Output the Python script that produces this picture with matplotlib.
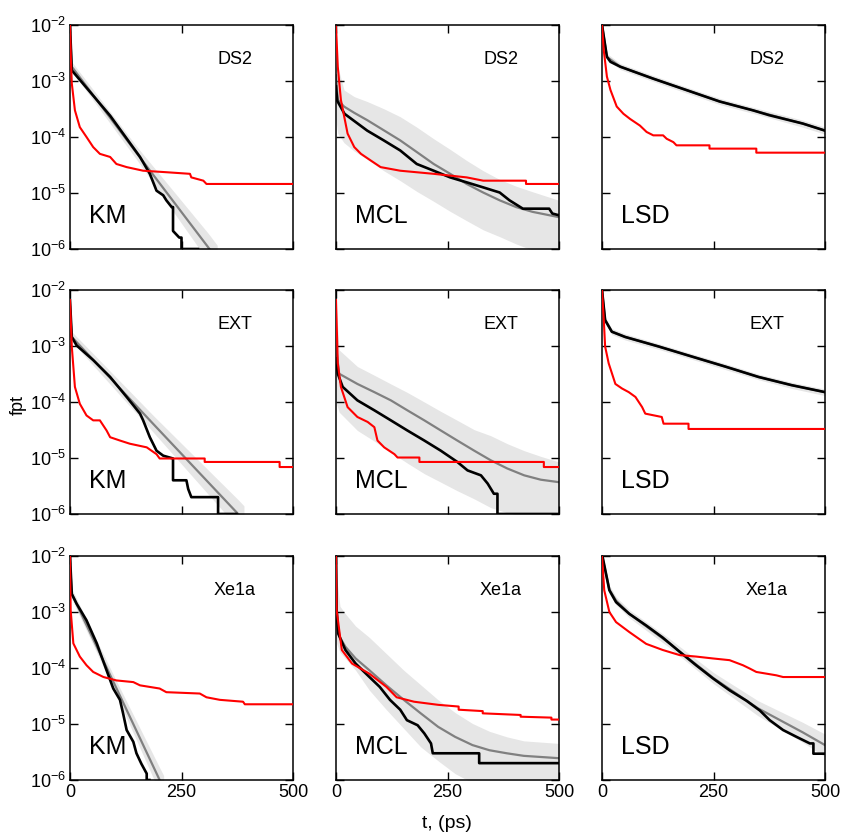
import numpy as np
import matplotlib
matplotlib.use("Agg")
import matplotlib.pyplot as plt
from matplotlib.ticker import NullLocator

plt.rcParams['font.family'] = ['Liberation Sans', 'DejaVu Sans']
plt.rcParams['mathtext.default'] = 'regular'

models = ["KM", "MCL", "LSD"]
datasets = ["DS2", "EXT", "Xe1a"]
x_ticks = [0, 250, 500]
y_ticks = [1e-6, 1e-5, 1e-4, 1e-3, 1e-2]

# ---- KM / DS2 ----
km_ds2_black_t = [0, 4, 90, 157, 179, 194, 209, 216, 228, 231, 231, 245, 250, 250, 287]
km_ds2_black_f = [1e-2, 1.55e-3, 2.4e-4, 4.4e-5, 2.2e-5, 1.1e-5, 9.1e-6, 7.4e-6, 5.6e-6, 5.6e-6, 2.1e-6, 1.6e-6, 1.6e-6, 1e-6, 1e-6]
km_ds2_red_t = [0, 2, 4, 11, 22, 37, 52, 67, 90, 104, 127, 164, 216, 269, 272, 299, 306, 500]
km_ds2_red_f = [1e-2, 2.5e-3, 9.1e-4, 3.0e-4, 1.5e-4, 1.0e-4, 6.6e-5, 5.0e-5, 4.4e-5, 3.3e-5, 2.9e-5, 2.5e-5, 2.35e-5, 2.2e-5, 1.9e-5, 1.66e-5, 1.45e-5, 1.45e-5]
km_ds2_fit_t = [0, 4, 150, 310, 330]
km_ds2_fit_f = [8e-3, 1.8e-3, 5.1e-5, 1.07e-6, 6.6e-7]
km_ds2_fit_lo = [5e-3, 1.5e-3, 3.9e-5, 6e-7, 3.7e-7]
km_ds2_fit_hi = [1e-2, 2.2e-3, 6.7e-5, 1.9e-6, 1.17e-6]

# ---- KM / EXT ----
km_ext_black_t = [0, 4, 15, 52, 90, 127, 157, 164, 179, 194, 209, 231, 231, 261, 265, 272, 332, 332, 373]
km_ext_black_f = [6.6e-3, 1.45e-3, 1.02e-3, 5.6e-4, 2.8e-4, 1.23e-4, 6.2e-5, 4.7e-5, 2.35e-5, 1.35e-5, 1.1e-5, 9.8e-6, 4.0e-6, 4.0e-6, 2.8e-6, 2.0e-6, 2.0e-6, 1.0e-6, 1.0e-6]
km_ext_red_t = [0, 4, 11, 22, 37, 52, 67, 82, 90, 112, 134, 172, 194, 201, 302, 302, 470, 470, 500]
km_ext_red_f = [6.6e-3, 9.8e-4, 1.86e-4, 9.3e-5, 5.75e-5, 4.7e-5, 4.7e-5, 3.1e-5, 2.35e-5, 2.05e-5, 1.8e-5, 1.55e-5, 1.17e-5, 9.8e-6, 9.8e-6, 8.5e-6, 8.5e-6, 6.9e-6, 6.9e-6]
km_ext_fit_t = [0, 4, 190, 377, 390]
km_ext_fit_f = [5e-3, 1.45e-3, 3.8e-5, 1e-6, 7.7e-7]
km_ext_fit_lo = [3e-3, 1.2e-3, 2.7e-5, 5.6e-7, 4.3e-7]
km_ext_fit_hi = [9e-3, 1.8e-3, 5.4e-5, 1.8e-6, 1.4e-6]

# ---- KM / Xe1a ----
km_xe_black_t = [0, 4, 15, 37, 60, 82, 97, 112, 119, 127, 142, 149, 160, 172, 172, 178]
km_xe_black_f = [1e-2, 2.1e-3, 1.4e-3, 7.1e-4, 2.75e-4, 9.1e-5, 4.3e-5, 2.7e-5, 1.55e-5, 7.8e-6, 4.8e-6, 3.0e-6, 1.95e-6, 1.3e-6, 1.0e-6, 1.0e-6]
km_xe_red_t = [0, 1.5, 7.5, 22, 37, 52, 75, 104, 142, 157, 201, 216, 291, 306, 336, 388, 392, 500]
km_xe_red_f = [1e-2, 1.07e-3, 2.75e-4, 1.6e-4, 1.12e-4, 8.5e-5, 6.9e-5, 6.0e-5, 5.6e-5, 4.9e-5, 4.3e-5, 3.7e-5, 3.5e-5, 3.0e-5, 2.7e-5, 2.5e-5, 2.25e-5, 2.25e-5]
km_xe_fit_t = [0, 4, 100, 201, 210]
km_xe_fit_f = [8e-3, 2.1e-3, 5.1e-5, 1e-6, 7e-7]
km_xe_fit_lo = [5e-3, 1.7e-3, 3.9e-5, 6e-7, 4.2e-7]
km_xe_fit_hi = [1e-2, 2.6e-3, 6.8e-5, 1.66e-6, 1.2e-6]

# ---- MCL / DS2 ----
mcl_ds2_black_t = [0, 3, 19, 70, 107, 144, 181, 219, 256, 293, 330, 367, 389, 419, 478, 485, 500]
mcl_ds2_black_f = [8e-4, 4.4e-4, 2.6e-4, 1.3e-4, 8.7e-5, 5.75e-5, 3.3e-5, 2.5e-5, 1.9e-5, 1.55e-5, 1.26e-5, 1.02e-5, 7.4e-6, 5.25e-6, 5.25e-6, 4.3e-6, 4.0e-6]
mcl_ds2_red_t = [0, 4, 11, 26, 41, 56, 78, 100, 144, 219, 293, 330, 426, 426, 500]
mcl_ds2_red_f = [9.3e-3, 1.8e-3, 4.6e-4, 1.15e-4, 6.6e-5, 5.0e-5, 3.8e-5, 2.9e-5, 2.5e-5, 2.2e-5, 1.9e-5, 1.66e-5, 1.66e-5, 1.45e-5, 1.45e-5]
mcl_ds2_fit_t = [0, 4, 18, 41, 70, 107, 144, 181, 219, 256, 293, 330, 367, 404, 441, 500]
mcl_ds2_fit_f = [1.26e-3, 4.6e-4, 3.5e-4, 2.7e-4, 2.0e-4, 1.32e-4, 8.7e-5, 5.4e-5, 3.3e-5, 2.2e-5, 1.45e-5, 1.02e-5, 7.4e-6, 5.6e-6, 4.6e-6, 3.7e-6]
mcl_ds2_fit_lo = [2e-4, 1.15e-4, 7.9e-5, 5.6e-5, 4.0e-5, 2.5e-5, 1.66e-5, 1.07e-5, 7.1e-6, 4.7e-6, 3.2e-6, 2.2e-6, 1.66e-6, 1.23e-6, 9.5e-7, 7e-7]
mcl_ds2_fit_hi = [1e-2, 1.8e-3, 6.9e-4, 5.25e-4, 4.3e-4, 3.2e-4, 2.3e-4, 1.5e-4, 9.3e-5, 6.0e-5, 3.8e-5, 2.5e-5, 1.74e-5, 1.32e-5, 1.05e-5, 7.4e-6]

# ---- MCL / EXT ----
mcl_ext_black_t = [0, 4, 15, 48, 86, 123, 160, 198, 235, 272, 295, 325, 340, 354, 362, 362, 500]
mcl_ext_black_f = [6e-4, 3.2e-4, 1.86e-4, 1.07e-4, 7.1e-5, 4.7e-5, 3.1e-5, 2.05e-5, 1.35e-5, 8.5e-6, 6.0e-6, 4.9e-6, 3.5e-6, 2.3e-6, 2.3e-6, 1e-6, 1e-6]
mcl_ext_red_t = [0, 4, 11, 26, 48, 71, 86, 93, 108, 131, 138, 187, 187, 466, 466, 500]
mcl_ext_red_f = [6.6e-3, 4.9e-4, 1.86e-4, 8.1e-5, 5.4e-5, 4.4e-5, 3.55e-5, 2.05e-5, 1.55e-5, 1.17e-5, 1.02e-5, 1.02e-5, 8.5e-6, 8.5e-6, 6.9e-6, 6.9e-6]
mcl_ext_fit_t = [0, 7, 48, 86, 123, 160, 198, 235, 272, 310, 347, 384, 422, 459, 500]
mcl_ext_fit_f = [1e-3, 3.2e-4, 2.1e-4, 1.5e-4, 1.07e-4, 7.1e-5, 4.7e-5, 3.1e-5, 2.05e-5, 1.35e-5, 9.1e-6, 6.5e-6, 4.9e-6, 4.1e-6, 3.7e-6]
mcl_ext_fit_lo = [1e-4, 6.6e-5, 3.1e-5, 2.0e-5, 1.26e-5, 8.1e-6, 5.25e-6, 3.7e-6, 2.6e-6, 1.86e-6, 1.3e-6, 1.05e-6, 8.9e-7, 7.9e-7, 7e-7]
mcl_ext_fit_hi = [6.3e-3, 8.5e-4, 4.3e-4, 3.0e-4, 2.1e-4, 1.48e-4, 1.0e-4, 6.8e-5, 4.7e-5, 3.2e-5, 2.5e-5, 1.8e-5, 1.35e-5, 1.07e-5, 8.5e-6]

# ---- MCL / Xe1a ----
mcl_xe_black_t = [0, 1.5, 5, 21, 44, 75, 98, 121, 144, 159, 183, 198, 213, 217, 321, 321, 500]
mcl_xe_black_f = [1e-2, 1.07e-3, 4.1e-4, 2.1e-4, 1.2e-4, 6.9e-5, 4.6e-5, 2.7e-5, 1.8e-5, 1.17e-5, 9.5e-6, 6.8e-6, 4.5e-6, 3.0e-6, 3.0e-6, 2.0e-6, 2.0e-6]
mcl_xe_red_t = [0, 1.5, 13, 36, 75, 113, 136, 175, 229, 275, 275, 329, 329, 414, 414, 483, 483, 500]
mcl_xe_red_f = [1e-2, 1.07e-3, 2.1e-4, 1.2e-4, 7.9e-5, 4.6e-5, 3.0e-5, 2.5e-5, 2.2e-5, 2.05e-5, 1.8e-5, 1.7e-5, 1.55e-5, 1.45e-5, 1.35e-5, 1.3e-5, 1.2e-5, 1.2e-5]
mcl_xe_fit_t = [0, 1.5, 9, 21, 44, 75, 113, 152, 190, 229, 267, 306, 344, 383, 421, 500]
mcl_xe_fit_f = [1e-2, 7.1e-4, 3.5e-4, 2.4e-4, 1.48e-4, 9.1e-5, 4.9e-5, 2.7e-5, 1.55e-5, 8.9e-6, 5.9e-6, 4.2e-6, 3.4e-6, 3.0e-6, 2.7e-6, 2.45e-6]
mcl_xe_fit_lo = [5e-4, 2.75e-4, 1.9e-4, 1.48e-4, 9.1e-5, 4.0e-5, 1.8e-5, 8.3e-6, 3.9e-6, 2.2e-6, 1.3e-6, 8.9e-7, 7e-7, 6.3e-7, 5.6e-7, 5e-7]
mcl_xe_fit_hi = [1e-2, 4e-3, 1.26e-3, 9.3e-4, 5.6e-4, 3.5e-4, 1.8e-4, 9.1e-5, 5.0e-5, 2.7e-5, 1.6e-5, 1.02e-5, 7.4e-6, 5.9e-6, 5.0e-6, 4.5e-6]

# ---- LSD / DS2 ----
lsd_ds2_black_t = [0, 11, 19, 41, 115, 189, 264, 338, 375, 450, 500]
lsd_ds2_black_f = [1e-2, 2.7e-3, 2.2e-3, 1.8e-3, 1.1e-3, 6.9e-4, 4.3e-4, 3.0e-4, 2.45e-4, 1.74e-4, 1.3e-4]
lsd_ds2_red_t = [0, 4, 11, 19, 33, 48, 63, 85, 100, 115, 137, 145, 160, 167, 241, 241, 346, 346, 500]
lsd_ds2_red_f = [1e-2, 3.5e-3, 1.2e-3, 6.9e-4, 3.5e-4, 2.6e-4, 2.1e-4, 1.6e-4, 1.23e-4, 1.07e-4, 1.07e-4, 9.3e-5, 8.1e-5, 7.1e-5, 7.1e-5, 6.2e-5, 6.2e-5, 5.25e-5, 5.25e-5]
lsd_ds2_fit_t = [0, 11, 41, 115, 189, 264, 338, 450, 500]
lsd_ds2_fit_f = [1e-2, 2.7e-3, 1.8e-3, 1.1e-3, 6.9e-4, 4.3e-4, 3.0e-4, 1.74e-4, 1.3e-4]
lsd_ds2_fit_lo = [8e-3, 2.4e-3, 1.6e-3, 9.8e-4, 6.1e-4, 3.8e-4, 2.65e-4, 1.5e-4, 1.12e-4]
lsd_ds2_fit_hi = [1.2e-2, 3.1e-3, 2.05e-3, 1.25e-3, 7.8e-4, 4.9e-4, 3.4e-4, 2.0e-4, 1.5e-4]

# ---- LSD / EXT ----
lsd_ext_black_t = [0, 7, 22, 52, 127, 201, 276, 351, 425, 500]
lsd_ext_black_f = [1e-2, 2.9e-3, 1.8e-3, 1.45e-3, 9.8e-4, 6.5e-4, 4.3e-4, 2.8e-4, 2.0e-4, 1.5e-4]
lsd_ext_red_t = [0, 4, 7, 15, 30, 45, 60, 75, 90, 97, 134, 138, 194, 194, 500]
lsd_ext_red_f = [1e-2, 2.9e-3, 9.8e-4, 4.9e-4, 2.1e-4, 1.74e-4, 1.5e-4, 1.23e-4, 8.1e-5, 6.2e-5, 5.4e-5, 4.1e-5, 4.1e-5, 3.3e-5, 3.3e-5]
lsd_ext_fit_t = [0, 7, 22, 52, 127, 201, 276, 351, 425, 500]
lsd_ext_fit_f = [1e-2, 2.9e-3, 1.8e-3, 1.45e-3, 9.8e-4, 6.5e-4, 4.3e-4, 2.8e-4, 2.0e-4, 1.5e-4]
lsd_ext_fit_lo = [8e-3, 2.5e-3, 1.6e-3, 1.28e-3, 8.7e-4, 5.8e-4, 3.8e-4, 2.5e-4, 1.75e-4, 1.3e-4]
lsd_ext_fit_hi = [1.2e-2, 3.3e-3, 2.05e-3, 1.65e-3, 1.1e-3, 7.3e-4, 4.85e-4, 3.15e-4, 2.25e-4, 1.7e-4]

# ---- LSD / Xe1a ----
lsd_xe_black_t = [0, 1.5, 16.5, 31.5, 61, 99, 136, 174, 211, 249, 286, 324, 354, 376, 406, 436, 466, 474, 474, 500]
lsd_xe_black_f = [1e-2, 9.5e-3, 2.45e-3, 1.5e-3, 9.3e-4, 5.75e-4, 3.5e-4, 1.95e-4, 1.12e-4, 6.5e-5, 4.0e-5, 2.6e-5, 1.74e-5, 1.17e-5, 7.8e-6, 5.9e-6, 4.5e-6, 4.5e-6, 2.95e-6, 2.95e-6]
lsd_xe_red_t = [0, 5, 16.5, 31.5, 61, 99, 136, 174, 211, 249, 286, 316, 331, 346, 391, 406, 500]
lsd_xe_red_f = [1e-2, 2.45e-3, 1e-3, 6.6e-4, 4.4e-4, 2.7e-4, 2.1e-4, 1.7e-4, 1.6e-4, 1.48e-4, 1.38e-4, 1.12e-4, 9.8e-5, 8.5e-5, 7.4e-5, 6.9e-5, 6.9e-5]
lsd_xe_fit_t = [0, 1.5, 16.5, 31.5, 61, 150, 250, 350, 450, 500]
lsd_xe_fit_f = [1e-2, 8.9e-3, 2.5e-3, 1.6e-3, 9.3e-4, 2.8e-4, 6.6e-5, 1.9e-5, 7.1e-6, 4.2e-6]
lsd_xe_fit_lo = [8.9e-3, 7.1e-3, 2.1e-3, 1.35e-3, 7.9e-4, 2.35e-4, 5.25e-5, 1.4e-5, 4.7e-6, 2.6e-6]
lsd_xe_fit_hi = [1.1e-2, 1.1e-2, 3.0e-3, 1.86e-3, 1.1e-3, 3.4e-4, 8.3e-5, 2.6e-5, 1.07e-5, 6.6e-6]

# rows = datasets, columns = models
grid = [
    [(km_ds2_black_t, km_ds2_black_f, km_ds2_red_t, km_ds2_red_f, km_ds2_fit_t, km_ds2_fit_f, km_ds2_fit_lo, km_ds2_fit_hi),
     (mcl_ds2_black_t, mcl_ds2_black_f, mcl_ds2_red_t, mcl_ds2_red_f, mcl_ds2_fit_t, mcl_ds2_fit_f, mcl_ds2_fit_lo, mcl_ds2_fit_hi),
     (lsd_ds2_black_t, lsd_ds2_black_f, lsd_ds2_red_t, lsd_ds2_red_f, lsd_ds2_fit_t, lsd_ds2_fit_f, lsd_ds2_fit_lo, lsd_ds2_fit_hi)],
    [(km_ext_black_t, km_ext_black_f, km_ext_red_t, km_ext_red_f, km_ext_fit_t, km_ext_fit_f, km_ext_fit_lo, km_ext_fit_hi),
     (mcl_ext_black_t, mcl_ext_black_f, mcl_ext_red_t, mcl_ext_red_f, mcl_ext_fit_t, mcl_ext_fit_f, mcl_ext_fit_lo, mcl_ext_fit_hi),
     (lsd_ext_black_t, lsd_ext_black_f, lsd_ext_red_t, lsd_ext_red_f, lsd_ext_fit_t, lsd_ext_fit_f, lsd_ext_fit_lo, lsd_ext_fit_hi)],
    [(km_xe_black_t, km_xe_black_f, km_xe_red_t, km_xe_red_f, km_xe_fit_t, km_xe_fit_f, km_xe_fit_lo, km_xe_fit_hi),
     (mcl_xe_black_t, mcl_xe_black_f, mcl_xe_red_t, mcl_xe_red_f, mcl_xe_fit_t, mcl_xe_fit_f, mcl_xe_fit_lo, mcl_xe_fit_hi),
     (lsd_xe_black_t, lsd_xe_black_f, lsd_xe_red_t, lsd_xe_red_f, lsd_xe_fit_t, lsd_xe_fit_f, lsd_xe_fit_lo, lsd_xe_fit_hi)],
]

W, H = 842, 838
fig = plt.figure(figsize=(W / 100, H / 100), dpi=100)

col_left = [70, 336, 602]   # pixels
row_top = [25, 290, 556]
ax_w, ax_h = 223, 224

for r in range(3):
    for c in range(3):
        bt, bf, rt, rf, ft, ff, flo, fhi = grid[r][c]
        ax = fig.add_axes([col_left[c] / W, 1 - (row_top[r] + ax_h) / H, ax_w / W, ax_h / H])
        ax.fill_between(ft, flo, fhi, color="#e6e6e6", lw=0, zorder=1)
        ax.plot(ft, ff, color="#808080", lw=1.6, zorder=2)
        ax.plot(bt, bf, color="black", lw=1.9, zorder=3)
        ax.plot(rt, rf, color="red", lw=1.5, zorder=4)
        ax.set_yscale("log")
        ax.set_xlim(0, 500)
        ax.set_ylim(1e-6, 1e-2)
        ax.set_xticks(x_ticks)
        ax.set_yticks(y_ticks)
        ax.yaxis.set_minor_locator(NullLocator())
        ax.tick_params(direction="in", top=True, right=True, length=6, width=1,
                       labelsize=13, pad=3)
        if c > 0:
            ax.tick_params(labelleft=False)
        if r < 2:
            ax.tick_params(labelbottom=False)
        for s in ax.spines.values():
            s.set_linewidth(1.1)
        ax.text(0.74, 0.845, datasets[r], transform=ax.transAxes, ha="center",
                va="center", fontsize=13)
        ax.text(0.085, 0.147, models[c], transform=ax.transAxes, ha="left",
                va="center", fontsize=18)

fig.text(18 / W, 1 - 405 / H, "fpt", rotation=90, ha="center", va="center", fontsize=13)
fig.text(447 / W, 1 - 823 / H, "t, (ps)", ha="center", va="center", fontsize=14)

fig.savefig("out.png", dpi=100)
